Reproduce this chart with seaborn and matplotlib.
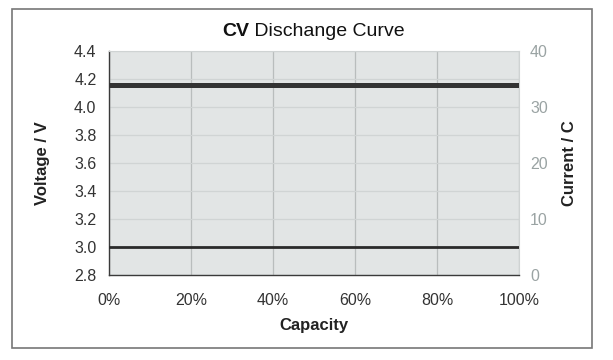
import seaborn as sns
import matplotlib.pyplot as plt
from matplotlib.patches import Rectangle
import pandas as pd

capacity = [0, 100]
voltage = [4.16, 4.16]
cutoff_voltage = [3.0, 3.0]
voltage_ticks = [2.8, 3.0, 3.2, 3.4, 3.6, 3.8, 4.0, 4.2, 4.4]
current_ticks = [0, 10, 20, 30, 40]
capacity_ticks = [0, 20, 40, 60, 80, 100]

sns.set_style("white")
plt.rcParams["font.family"] = ["Liberation Sans", "DejaVu Sans"]

fig = plt.figure(figsize=(6.13, 3.6), dpi=100)
ax = fig.add_axes([109 / 613, 1 - 275 / 360, 410 / 613, 224 / 360])
ax.set_facecolor("#e2e5e5")

df = pd.DataFrame({"capacity": capacity, "voltage": voltage, "cutoff": cutoff_voltage})
sns.lineplot(data=df, x="capacity", y="voltage", ax=ax, color="#333333", linewidth=3.6, zorder=5)
sns.lineplot(data=df, x="capacity", y="cutoff", ax=ax, color="#2a2a2a", linewidth=2.0, zorder=5)

ax.set_xlim(0, 100)
ax.set_ylim(2.8, 4.4)
ax.set_xticks(capacity_ticks)
ax.set_xticklabels([f"{c}%" for c in capacity_ticks])
ax.set_yticks(voltage_ticks)
ax.set_yticklabels([f"{v:.1f}" for v in voltage_ticks])
ax.tick_params(axis="both", length=0, labelsize=11.5, colors="#333333", pad=9)
ax.tick_params(axis="x", pad=13)

ax.grid(axis="x", color="#b9bdbd", linewidth=0.9)
ax.grid(axis="y", color="#d0d4d4", linewidth=0.9)
for side in ["top", "right"]:
    ax.spines[side].set_color("#cfd3d3")
for side in ["left", "bottom"]:
    ax.spines[side].set_color("#3a3a3a")
    ax.spines[side].set_linewidth(1.0)

ax.set_xlabel("Capacity", fontsize=12, fontweight="bold", color="#222222")
ax.xaxis.set_label_coords(0.5, -(318 - 275) / 224)
ax.set_ylabel("Voltage / V", fontsize=12, fontweight="bold", color="#222222")
ax.yaxis.set_label_coords((50 - 109) / 410, 0.5)

ax2 = ax.twinx()
ax2.set_ylim(0, 40)
ax2.set_yticks(current_ticks)
ax2.tick_params(axis="y", length=0, labelsize=11.5, colors="#9aa3a3", pad=8)
for side in ["top", "right", "left", "bottom"]:
    ax2.spines[side].set_visible(False)
ax2.set_ylabel("Current / C", fontsize=12, fontweight="bold", color="#222222")
ax2.yaxis.set_label_coords((562 - 109) / 410, 0.5)

fig.text(249 / 613, 1 - 31 / 360, "CV", fontsize=14, fontweight="bold", ha="right", va="center", color="#111111")
fig.text(249 / 613, 1 - 31 / 360, " Dischange Curve", fontsize=14, ha="left", va="center", color="#111111")

fig.patches.append(Rectangle((12 / 613, 1 - 348 / 360), 580 / 613, 339 / 360,
                             transform=fig.transFigure, fill=False,
                             edgecolor="#777777", linewidth=1.2))

fig.savefig("out.png", dpi=100)
